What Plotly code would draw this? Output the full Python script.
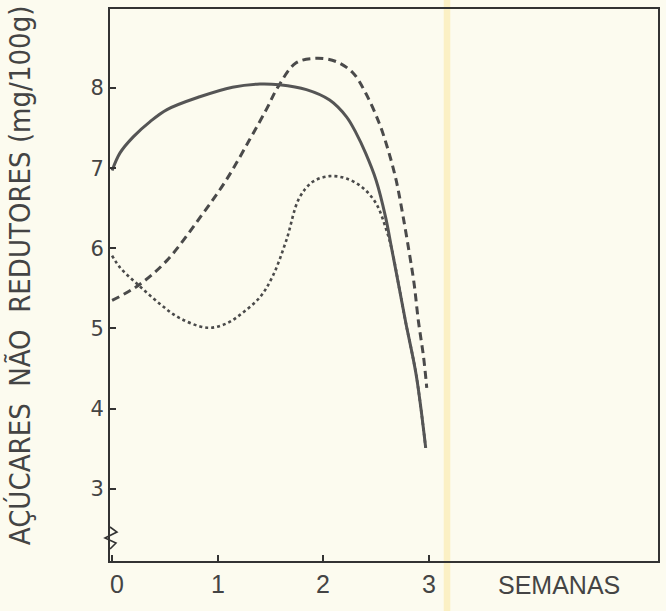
import plotly.graph_objects as go

# Data (weeks vs non-reducing sugars, mg/100g)
solid_x = [0.0, 0.075, 0.2, 0.36, 0.52, 0.83, 1.14, 1.4, 1.585, 1.84, 2.06, 2.22, 2.31, 2.4,
           2.5, 2.59, 2.65, 2.72, 2.78, 2.88, 2.97]
solid_y = [6.97, 7.19, 7.39, 7.58, 7.73, 7.89, 8.01, 8.05, 8.04, 7.98, 7.85, 7.64, 7.44, 7.19,
           6.85, 6.39, 5.98, 5.5, 5.08, 4.42, 3.51]

dashed_x = [0.0, 0.25, 0.52, 0.83, 1.08, 1.3, 1.46, 1.57, 1.74, 1.93, 2.12, 2.28, 2.4, 2.53,
            2.62, 2.69, 2.75, 2.81, 2.86, 2.9, 2.95, 2.98]
dashed_y = [5.35, 5.54, 5.85, 6.38, 6.85, 7.35, 7.73, 8.01, 8.31, 8.37, 8.33, 8.19, 7.94, 7.56,
            7.2, 6.85, 6.44, 5.98, 5.56, 5.1, 4.64, 4.26]

dotted_x = [0.0, 0.075, 0.25, 0.45, 0.64, 0.9, 1.08, 1.24, 1.4, 1.52, 1.65, 1.77, 1.9, 2.06,
            2.22, 2.37, 2.5, 2.59, 2.65, 2.72, 2.78, 2.88, 2.97]
dotted_y = [5.91, 5.76, 5.54, 5.31, 5.13, 5.01, 5.06, 5.2, 5.39, 5.65, 6.1, 6.62, 6.83, 6.9,
            6.87, 6.76, 6.56, 6.26, 5.98, 5.5, 5.08, 4.42, 3.51]

x_ticks = [0, 1, 2, 3]
x_tick_labels = ["0", "1", "2", "3"]
y_ticks = [3, 4, 5, 6, 7, 8]

INK = "#4a4a4a"
FONT = "Liberation Sans, DejaVu Sans, sans-serif"
NARROW = "Liberation Sans Narrow, DejaVu Sans Condensed, sans-serif"

fig = go.Figure()
fig.add_trace(go.Scatter(x=dotted_x, y=dotted_y, mode="lines",
                         line=dict(color=INK, width=2.6, dash="dot", shape="spline", smoothing=1.0),
                         showlegend=False, hoverinfo="skip"))
fig.add_trace(go.Scatter(x=dashed_x, y=dashed_y, mode="lines",
                         line=dict(color=INK, width=3, dash="8px,5px", shape="spline", smoothing=1.0),
                         showlegend=False, hoverinfo="skip"))
fig.add_trace(go.Scatter(x=solid_x, y=solid_y, mode="lines",
                         line=dict(color="#555555", width=3, shape="spline", smoothing=1.0),
                         showlegend=False, hoverinfo="skip"))

# paper fold stripe (scan artifact)
fig.add_shape(type="rect", xref="paper", yref="paper", x0=0.609, x1=0.621, y0=-1, y1=2,
              fillcolor="#fbf0c4", line_width=0, layer="below")

# axis-break zigzag on the y axis
def px(xp, yp):
    return (xp - 110) / 550, (561 - yp) / 552
pts = [px(110, 527), px(117, 532), px(105, 538), px(116, 543), px(110, 549)]
path = "M " + " L ".join(f"{a:.4f},{b:.4f}" for a, b in pts)
fig.add_shape(type="path", xref="paper", yref="paper", path=path,
              line=dict(color="#333", width=1.6))

fig.update_xaxes(range=[-0.02, 5.17], tickvals=x_ticks, showticklabels=False,
                 ticks="inside", ticklen=6, tickwidth=1.5, tickcolor="#333",
                 showline=True, linecolor="#333", linewidth=2, mirror=True,
                 showgrid=False, zeroline=False)
fig.update_yaxes(range=[2.10, 8.985], tickvals=y_ticks, ticktext=[str(v) for v in y_ticks],
                 ticks="inside", ticklen=6, tickwidth=1.5, tickcolor="#333",
                 showline=True, linecolor="#333", linewidth=2, mirror=True,
                 showgrid=False, zeroline=False,
                 tickfont=dict(family="DejaVu Sans, sans-serif", size=21, color="#444"))

# x tick labels placed on the axis scale
for v, lab in zip(x_ticks, x_tick_labels):
    fig.add_annotation(text=lab, x=v + 0.05 if v == 0 else v, xref="x", yref="paper", y=-0.012,
                       xanchor="center", yanchor="top", showarrow=False,
                       font=dict(family=FONT, size=25, color="#444"))

fig.add_annotation(text="SEMANAS", xref="paper", yref="paper", x=0.82, y=-0.014,
                   xanchor="center", yanchor="top", showarrow=False,
                   font=dict(family=FONT, size=25, color="#444"))
fig.add_annotation(text="AÇÚCARES  NÃO  REDUTORES (mg/100g)", xref="paper", yref="paper",
                   x=-0.164, y=0.518, xanchor="center", yanchor="middle", textangle=-90,
                   showarrow=False, font=dict(family=NARROW, size=29, color="#444"))

fig.update_layout(width=666, height=611,
                  margin=dict(l=110, r=6, t=9, b=50),
                  paper_bgcolor="#fcfbef", plot_bgcolor="rgba(0,0,0,0)")

fig.write_html("out.html")
